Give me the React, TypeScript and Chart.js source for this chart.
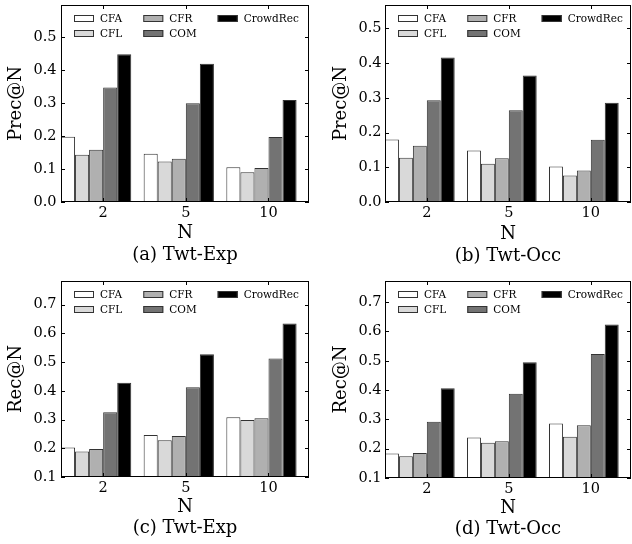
import React, { useEffect, useRef } from "react";
import { Chart, registerables } from "chart.js";

Chart.register(...registerables);

// ---------- data ----------
const categories = ["2", "5", "10"];
const methods = ["CFA", "CFL", "CFR", "COM", "CrowdRec"];

// (a) Prec@N, Twt-Exp
const precExpCFA = [0.198, 0.146, 0.105];
const precExpCFL = [0.143, 0.123, 0.09];
const precExpCFR = [0.158, 0.131, 0.103];
const precExpCOM = [0.347, 0.299, 0.197];
const precExpCrowdRec = [0.448, 0.419, 0.309];

// (b) Prec@N, Twt-Occ
const precOccCFA = [0.18, 0.148, 0.102];
const precOccCFL = [0.127, 0.11, 0.076];
const precOccCFR = [0.162, 0.126, 0.091];
const precOccCOM = [0.293, 0.264, 0.179];
const precOccCrowdRec = [0.416, 0.364, 0.286];

// (c) Rec@N, Twt-Exp
const recExpCFA = [0.203, 0.246, 0.308];
const recExpCFL = [0.189, 0.228, 0.298];
const recExpCFR = [0.197, 0.243, 0.304];
const recExpCOM = [0.325, 0.412, 0.512];
const recExpCrowdRec = [0.428, 0.527, 0.634];

// (d) Rec@N, Twt-Occ
const recOccCFA = [0.184, 0.238, 0.286];
const recOccCFL = [0.174, 0.22, 0.241];
const recOccCFR = [0.185, 0.225, 0.28];
const recOccCOM = [0.292, 0.387, 0.523];
const recOccCrowdRec = [0.406, 0.495, 0.624];

const precTicks = [0.0, 0.1, 0.2, 0.3, 0.4, 0.5];
const recTicks = [0.1, 0.2, 0.3, 0.4, 0.5, 0.6, 0.7];

// ---------- styles ----------
const FONT = "'DejaVu Serif', 'Liberation Serif', serif";
const methodColors = ["#ffffff", "#d9d9d9", "#b0b0b0", "#737373", "#000000"];
const EDGE = "#333333";
const W = 316;
const H = 272;

type Area = { left: number; right: number; top: number; bottom: number };
type PanelSpec = {
  caption: string;
  yTitle: string;
  series: number[][];
  ticks: number[];
  yMin: number;
  yMax: number;
  area: Area;
  yTickPad: number;
  yTitlePad: number;
  xTickPad: number;
  xTitlePad: number;
};

const panels: PanelSpec[] = [
  {
    caption: "(a) Twt-Exp",
    yTitle: "Prec@N",
    series: [precExpCFA, precExpCFL, precExpCFR, precExpCOM, precExpCrowdRec],
    ticks: precTicks,
    yMin: 0,
    yMax: 0.597,
    area: { left: 61, right: 309, top: 5, bottom: 202 },
    yTickPad: 4.5,
    yTitlePad: 6,
    xTickPad: 2.6,
    xTitlePad: 6,
  },
  {
    caption: "(b) Twt-Occ",
    yTitle: "Prec@N",
    series: [precOccCFA, precOccCFL, precOccCFR, precOccCOM, precOccCrowdRec],
    ticks: precTicks,
    yMin: 0,
    yMax: 0.567,
    area: { left: 69, right: 315, top: 5, bottom: 202 },
    yTickPad: 3.5,
    yTitlePad: 14.5,
    xTickPad: 2.6,
    xTitlePad: 5,
  },
  {
    caption: "(c) Twt-Exp",
    yTitle: "Rec@N",
    series: [recExpCFA, recExpCFL, recExpCFR, recExpCOM, recExpCrowdRec],
    ticks: recTicks,
    yMin: 0.1,
    yMax: 0.782,
    area: { left: 61, right: 309, top: 9, bottom: 205 },
    yTickPad: 4.5,
    yTitlePad: 6,
    xTickPad: 2.3,
    xTitlePad: 4.5,
  },
  {
    caption: "(d) Twt-Occ",
    yTitle: "Rec@N",
    series: [recOccCFA, recOccCFL, recOccCFR, recOccCOM, recOccCrowdRec],
    ticks: recTicks,
    yMin: 0.1,
    yMax: 0.772,
    area: { left: 69, right: 315, top: 9, bottom: 206 },
    yTickPad: 3.5,
    yTitlePad: 14.5,
    xTickPad: 2.3,
    xTitlePad: 3.5,
  },
];

// frame + inward tick marks (matplotlib style)
const framePlugin = {
  id: "frameTicks",
  afterDatasetsDraw(chart: any) {
    const ctx = chart.ctx as CanvasRenderingContext2D;
    const { left, right, top, bottom } = chart.chartArea;
    const xs = chart.scales.x;
    const ys = chart.scales.y;
    ctx.save();
    ctx.strokeStyle = "#000";
    ctx.lineWidth = 1;
    ctx.beginPath();
    const L = 4;
    ys.ticks.forEach((t: any) => {
      const y = Math.round(ys.getPixelForValue(t.value)) + 0.5;
      ctx.moveTo(left, y);
      ctx.lineTo(left + L, y);
      ctx.moveTo(right, y);
      ctx.lineTo(right - L, y);
    });
    xs.ticks.forEach((t: any) => {
      const x = Math.round(xs.getPixelForValue(t.value)) + 0.5;
      ctx.moveTo(x, bottom);
      ctx.lineTo(x, bottom - L);
      ctx.moveTo(x, top);
      ctx.lineTo(x, top + L);
    });
    ctx.stroke();
    ctx.strokeRect(
      Math.round(left) + 0.5,
      Math.round(top) + 0.5,
      Math.round(right) - Math.round(left) - 1,
      Math.round(bottom) - Math.round(top) - 1
    );
    ctx.restore();
  },
};

// legend in 3 columns, filled column-first, inside the axes
const legendPlugin = {
  id: "insideLegend",
  afterDraw(chart: any) {
    const ctx = chart.ctx as CanvasRenderingContext2D;
    const { left, top } = chart.chartArea;
    const ds = chart.data.datasets;
    const rows = 2;
    const cols = Math.ceil(ds.length / rows);
    ctx.save();
    ctx.font = `10.5px ${FONT}`;
    ctx.textBaseline = "middle";
    ctx.textAlign = "left";
    let x = left + 13;
    for (let c = 0; c < cols; c++) {
      let maxW = 0;
      for (let r = 0; r < rows; r++) {
        const d = ds[c * rows + r];
        if (!d) continue;
        const y = top + 13.5 + r * 15;
        ctx.fillStyle = d.backgroundColor;
        ctx.fillRect(x, Math.round(y - 3.5), 20, 7);
        ctx.strokeStyle = EDGE;
        ctx.lineWidth = 1;
        ctx.strokeRect(x + 0.5, Math.round(y - 3.5) + 0.5, 19, 6);
        ctx.fillStyle = "#000";
        ctx.fillText(d.label, x + 26, y + 0.5);
        maxW = Math.max(maxW, ctx.measureText(d.label).width);
      }
      x += 20 + 6 + maxW + 21;
    }
    ctx.restore();
  },
};

function Panel({ spec }: { spec: PanelSpec }) {
  const ref = useRef<HTMLCanvasElement>(null);
  useEffect(() => {
    const canvas = ref.current;
    if (!canvas) return;
    const a = spec.area;
    const chart = new Chart(canvas, {
      type: "bar",
      data: {
        datasets: methods.map((m, k) => ({
          label: m,
          data: spec.series[k].map((v, i) => ({ x: i, y: v })),
          backgroundColor: methodColors[k],
          borderColor: EDGE,
          borderWidth: 1,
          borderSkipped: false,
          categoryPercentage: 0.85,
          barPercentage: 1.0,
        })),
      } as any,
      options: {
        responsive: false,
        animation: false,
        events: [],
        layout: { padding: { left: 0, top: a.top, right: W - a.right, bottom: 0 } },
        plugins: {
          legend: { display: false },
          tooltip: { enabled: false },
          title: { display: false },
        },
        scales: {
          x: {
            type: "linear",
            offset: false,
            min: -0.425,
            max: 2.575,
            grid: { display: false, drawTicks: false, offset: false },
            border: { display: false },
            afterBuildTicks: (s: any) => {
              s.ticks = categories.map((_, i) => ({ value: i + 0.085 }));
            },
            afterFit: (s: any) => {
              s.height = H - a.bottom;
              s.paddingLeft = 0;
              s.paddingRight = 0;
            },
            ticks: {
              autoSkip: false,
              maxRotation: 0,
              minRotation: 0,
              padding: spec.xTickPad,
              color: "#000",
              font: { family: FONT, size: 14.5 },
              callback: (_v: any, i: number) => categories[i],
            },
            title: {
              display: true,
              text: ["N", spec.caption],
              color: "#000",
              font: { family: FONT, size: 18, lineHeight: 1.2 },
              padding: { top: 0, bottom: spec.xTitlePad },
            },
          },
          y: {
            type: "linear",
            min: spec.yMin,
            max: spec.yMax,
            grid: { display: false, drawTicks: false },
            border: { display: false },
            afterBuildTicks: (s: any) => {
              s.ticks = spec.ticks.map((v) => ({ value: v }));
            },
            afterFit: (s: any) => {
              s.width = a.left;
              s.paddingTop = 0;
              s.paddingBottom = 0;
            },
            ticks: {
              padding: spec.yTickPad,
              color: "#000",
              font: { family: FONT, size: 14.5 },
              callback: (v: any) => Number(v).toFixed(1),
            },
            title: {
              display: true,
              text: spec.yTitle,
              color: "#000",
              font: { family: FONT, size: 18, lineHeight: 1.2 },
              padding: { top: spec.yTitlePad, bottom: 0 },
            },
          },
        },
      } as any,
      plugins: [framePlugin, legendPlugin],
    });
    return () => chart.destroy();
  }, [spec]);
  return (
    <canvas
      ref={ref}
      width={W}
      height={H}
      style={{ display: "block", width: W, height: H }}
    />
  );
}

export default function App() {
  return (
    <div
      style={{
        position: "fixed",
        left: 0,
        top: 0,
        width: W * 2,
        height: H * 2,
        background: "#ffffff",
        display: "grid",
        gridTemplateColumns: `${W}px ${W}px`,
        gridTemplateRows: `${H}px ${H}px`,
      }}
    >
      {panels.map((p) => (
        <Panel key={p.caption} spec={p} />
      ))}
    </div>
  );
}
